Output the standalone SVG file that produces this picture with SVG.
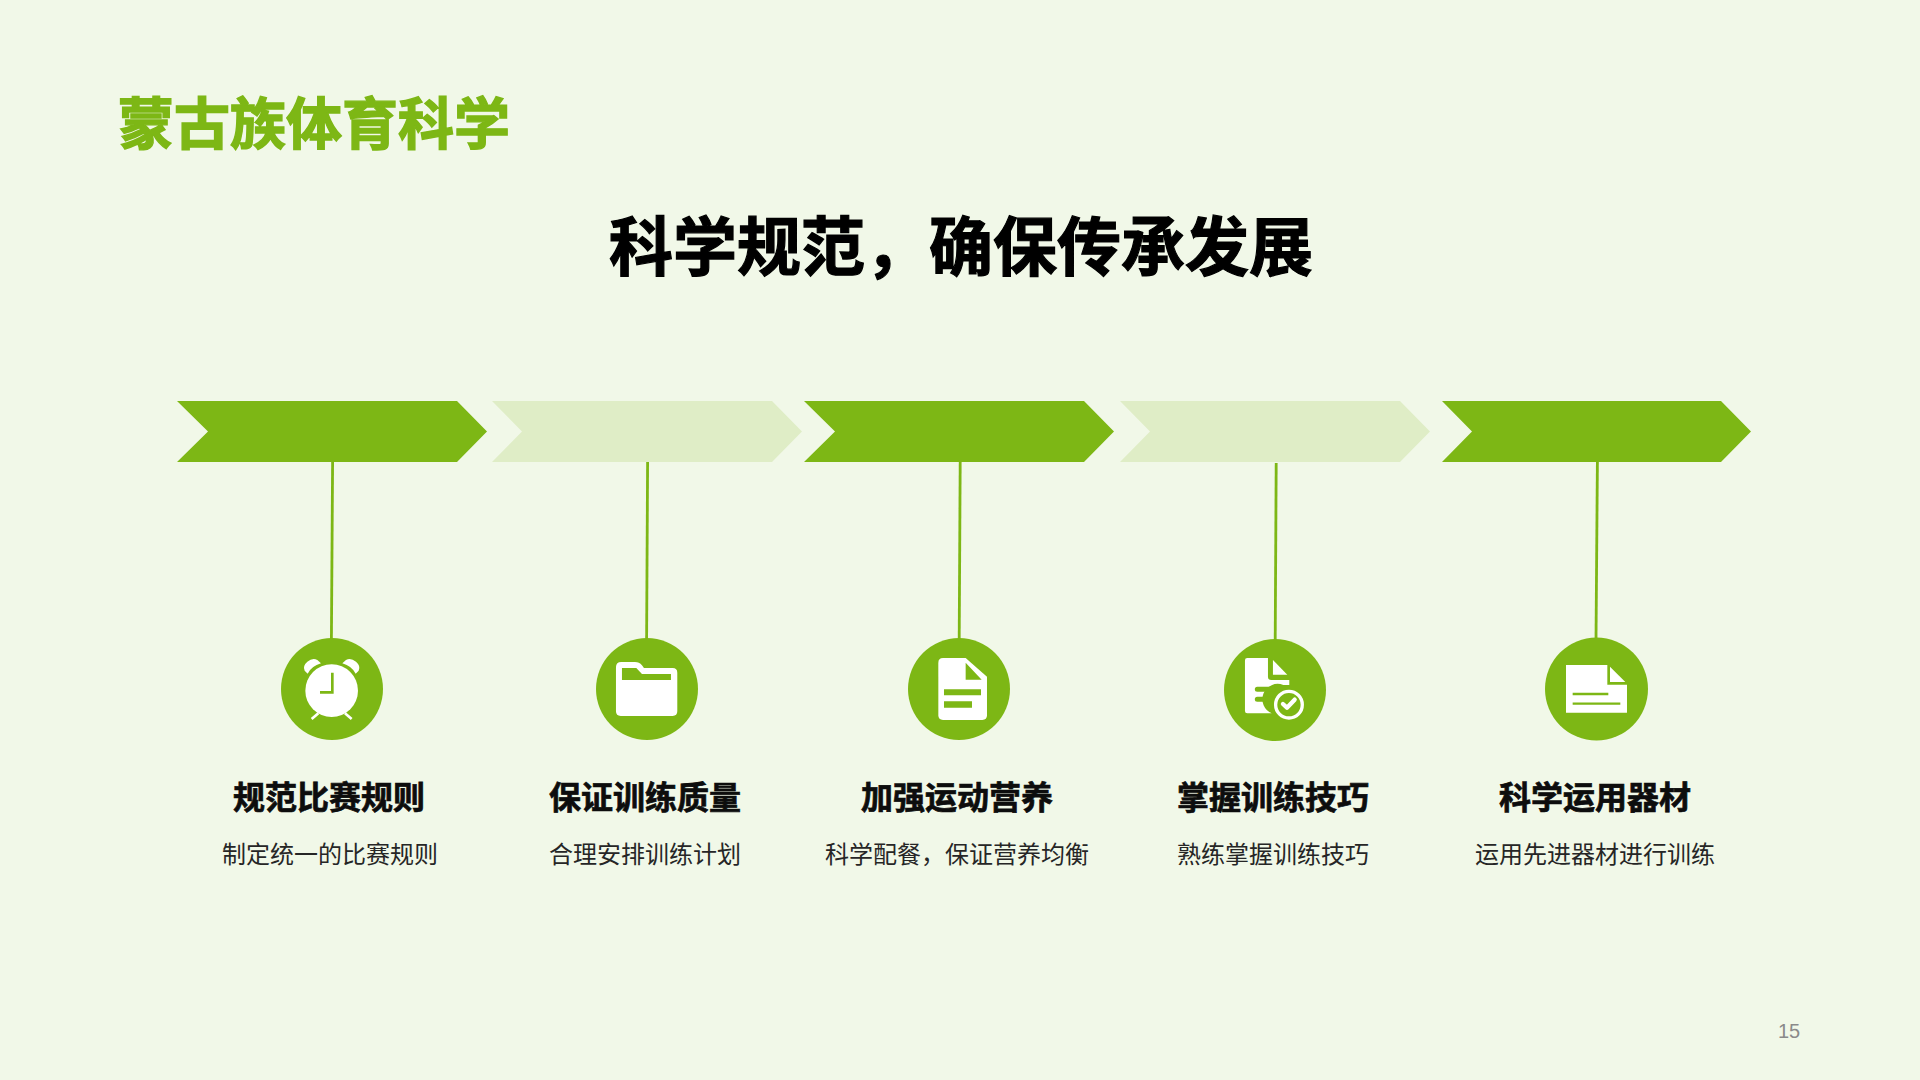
<svg xmlns="http://www.w3.org/2000/svg" width="1920" height="1080" viewBox="0 0 1920 1080">
<style>
.g{fill:#7db715}.l{fill:#dfedc6}.w{fill:#fff}
.c{stroke:#7db715;stroke-width:2.8;fill:none}
text{font-family:"Microsoft YaHei","Noto Sans CJK SC",sans-serif}
.t{font-size:32px;font-weight:700;fill:#0d0d0d;stroke:#0d0d0d;stroke-width:.7px;text-anchor:middle}
.s{font-size:24px;fill:#262626;text-anchor:middle}
</style>
<rect width="1920" height="1080" fill="#f1f8e8"/>
<text x="118" y="144" font-size="56" font-weight="700" fill="#7db715" stroke="#7db715" stroke-width="1.4">蒙古族体育科学</text>
<text x="961" y="270" font-size="64" font-weight="700" fill="#000" stroke="#000" stroke-width="1.2" text-anchor="middle">科学规范，确保传承发展</text>
<g id="connectors">
<line class="c" x1="332.6" y1="462" x2="331.4" y2="640"/>
<line class="c" x1="647.6" y1="462" x2="646.6" y2="640"/>
<line class="c" x1="960.2" y1="462" x2="959.2" y2="640"/>
<line class="c" x1="1276.2" y1="463" x2="1275.2" y2="641"/>
<line class="c" x1="1597.4" y1="462" x2="1596" y2="640"/>
</g>
<g id="chevrons">
<polygon id="chevron1" class="g" points="177,401 457,401 487,431.5 457,462 177,462 208,431.5"/>
<polygon id="chevron2" class="l" points="492,401 772,401 802,431.5 772,462 492,462 522,431.5"/>
<polygon id="chevron3" class="g" points="804,401 1084,401 1114,431.5 1084,462 804,462 835,431.5"/>
<polygon id="chevron4" class="l" points="1120,401 1400,401 1430,431.5 1400,462 1120,462 1150,431.5"/>
<polygon id="chevron5" class="g" points="1442,401 1721,401 1751,431.5 1721,462 1442,462 1472,431.5"/>
</g>
<g id="node1">
<circle class="g" cx="332" cy="689" r="51"/>
<g transform="translate(270 630) scale(.3333)">
<circle class="w" cx="185" cy="182" r="79"/>
<path class="w" d="M104 122Q97 108 112 95Q128 82 142 90L153 100Q125 108 113 131Z"/>
<path class="w" d="M266 122Q273 108 258 95Q242 82 228 90L217 100Q245 108 257 131Z"/>
<path d="M125 267L145 250M245 267L225 250" stroke="#fff" stroke-width="8" fill="none"/>
<path d="M187 128V187H150" stroke="#7db715" stroke-width="8" fill="none"/>
</g>
<text class="t" x="329" y="809">规范比赛规则</text>
<text class="s" x="330" y="863">制定统一的比赛规则</text>
</g>
<g id="node2">
<circle class="g" cx="647" cy="689" r="51"/>
<g transform="translate(270 630) scale(.3333)">
<path class="w" d="M1054 96H1095Q1108 96 1116 106L1122 114H1208Q1222 114 1222 128V244Q1222 258 1208 258H1052Q1038 258 1038 244V112Q1038 96 1054 96Z"/>
<path class="g" d="M1056 114H1099L1116 132H1203V150H1056Z"/>
</g>
<text class="t" x="645" y="809">保证训练质量</text>
<text class="s" x="645" y="863">合理安排训练计划</text>
</g>
<g id="node3">
<circle class="g" cx="959" cy="689" r="51"/>
<g transform="translate(890 630) scale(.3333)">
<path class="w" d="M159 84H227L291 140V256Q291 270 277 270H159Q145 270 145 256V98Q145 84 159 84Z"/>
<path class="g" d="M227 98L275 149H227ZM162 178H273V196H162ZM162 214H246V233H162Z"/>
</g>
<text class="t" x="957" y="809">加强运动营养</text>
<text class="s" x="957" y="863">科学配餐，保证营养均衡</text>
</g>
<g id="node4">
<circle class="g" cx="1275" cy="690" r="51"/>
<g transform="translate(890 630) scale(.3333)">
<path class="w" d="M1072 84H1134V140Q1134 150 1144 150H1198V165H1180A45 45 0 0 0 1146 250H1072Q1065 250 1065 243V91Q1065 84 1072 84Z"/>
<path class="w" d="M1149 90L1192 134H1149Z"/>
<path d="M1102 178H1150M1102 208H1145" stroke="#7db715" stroke-width="15" stroke-linecap="round" fill="none"/>
<circle cx="1197" cy="224" r="40" fill="#7db715" stroke="#fff" stroke-width="10"/>
<path d="M1179 222L1191 233L1214 209" stroke="#fff" stroke-width="13" fill="none" stroke-linecap="round" stroke-linejoin="round"/>
</g>
<text class="t" x="1273" y="809">掌握训练技巧</text>
<text class="s" x="1273" y="863">熟练掌握训练技巧</text>
</g>
<g id="node5">
<circle class="g" cx="1596.5" cy="689" r="51.5"/>
<g transform="translate(1530 630) scale(.3333)">
<path class="w" d="M108 105H232V164H291V248H108Z"/>
<path class="w" d="M240 110L286 156H240Z"/>
<path d="M128 192H235M128 221H271" stroke="#7db715" stroke-width="7" fill="none"/>
</g>
<text class="t" x="1595" y="809">科学运用器材</text>
<text class="s" x="1595" y="863">运用先进器材进行训练</text>
</g>
<text x="1778" y="1038" font-size="20" fill="#8a8a8a" style="font-family:'Liberation Sans',sans-serif">15</text>
</svg>
